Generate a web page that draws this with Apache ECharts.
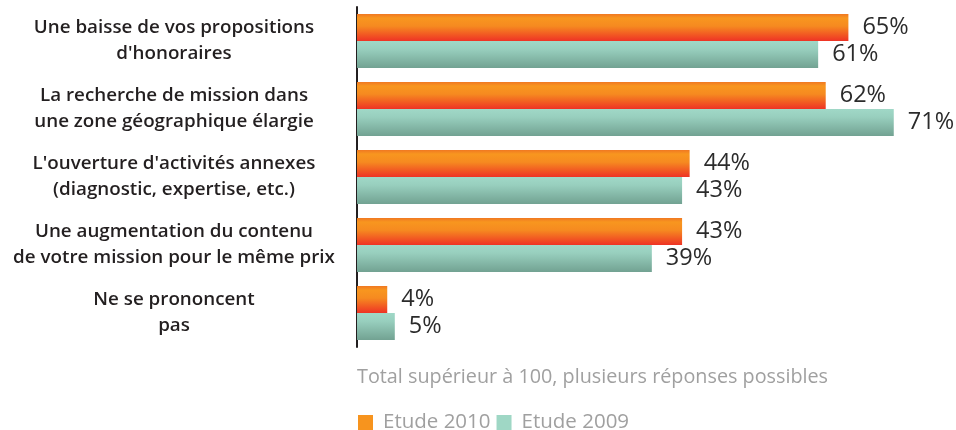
<!DOCTYPE html>
<html>
<head>
<meta charset="utf-8">
<script src="https://cdn.jsdelivr.net/npm/echarts@6/dist/echarts.min.js"></script>
<style>
  html, body { margin: 0; padding: 0; background: #fff; }
  #chart { width: 956px; height: 430px; }
</style>
</head>
<body>
<div id="chart"></div>
<script>
// categories, top to bottom
let categories = [
  "Une baisse de vos propositions\nd'honoraires",
  "La recherche de mission dans\nune zone géographique élargie",
  "L'ouverture d'activités annexes\n(diagnostic, expertise, etc.)",
  "Une augmentation du contenu\nde votre mission pour le même prix",
  "Ne se prononcent\npas"
];
let etude2010 = [65, 62, 44, 43, 4];
let etude2009 = [61, 71, 43, 39, 5];
let seriesNames = ['Etude 2010', 'Etude 2009'];
let note = 'Total supérieur à 100, plusieurs réponses possibles';

var chart = echarts.init(document.getElementById('chart'));

const orangeGrad = new echarts.graphic.LinearGradient(0, 0, 0, 1, [
  { offset: 0, color: '#f07822' },
  { offset: 0.15, color: '#f8961f' },
  { offset: 0.45, color: '#f68a20' },
  { offset: 1, color: '#ee3325' }
]);
const tealGrad = new echarts.graphic.LinearGradient(0, 0, 0, 1, [
  { offset: 0, color: '#a0d8c7' },
  { offset: 0.3, color: '#98cfbe' },
  { offset: 1, color: '#72a292' }
]);

const valueLabel = {
  show: true,
  position: 'right',
  distance: 14,
  formatter: '{c}%',
  fontFamily: 'Open Sans',
  fontWeight: 500,
  fontSize: 23.5,
  color: '#2b2b2b'
};

chart.setOption({
  animation: false,
  title: {
    text: note,
    left: 352,
    top: 362,
    textStyle: { fontFamily: 'Open Sans', fontSize: 19.8, fontWeight: 'normal', color: '#a0a0a0' }
  },
  legend: {
    left: 353,
    top: 407,
    icon: 'rect',
    itemWidth: 15,
    itemHeight: 15,
    itemGap: 6,
    textStyle: { fontFamily: 'Open Sans', fontSize: 20.5, color: '#a0a0a0', padding: [0, 0, 0, 5] },
    data: [
      { name: seriesNames[0], itemStyle: { color: '#f7941e' } },
      { name: seriesNames[1], itemStyle: { color: '#9fd7c5' } }
    ]
  },
  grid: { left: 357, top: 7, height: 340, right: 32 },
  xAxis: {
    type: 'value',
    min: 0,
    max: 75,
    show: false
  },
  yAxis: {
    type: 'category',
    inverse: true,
    data: categories,
    axisTick: { show: false },
    axisLine: { show: true, lineStyle: { color: '#231f20', width: 2 } },
    axisLabel: {
      margin: 183,
      align: 'center',
      fontFamily: 'Open Sans',
      fontWeight: 600,
      fontSize: 18.8,
      lineHeight: 26,
      color: '#231f20'
    }
  },
  series: [
    {
      name: seriesNames[0],
      type: 'bar',
      barWidth: 27,
      barGap: '0%',
      itemStyle: { color: orangeGrad },
      label: valueLabel,
      data: etude2010
    },
    {
      name: seriesNames[1],
      type: 'bar',
      barWidth: 27,
      barGap: '0%',
      itemStyle: { color: tealGrad },
      label: valueLabel,
      data: etude2009
    }
  ]
});
</script>
</body>
</html>
